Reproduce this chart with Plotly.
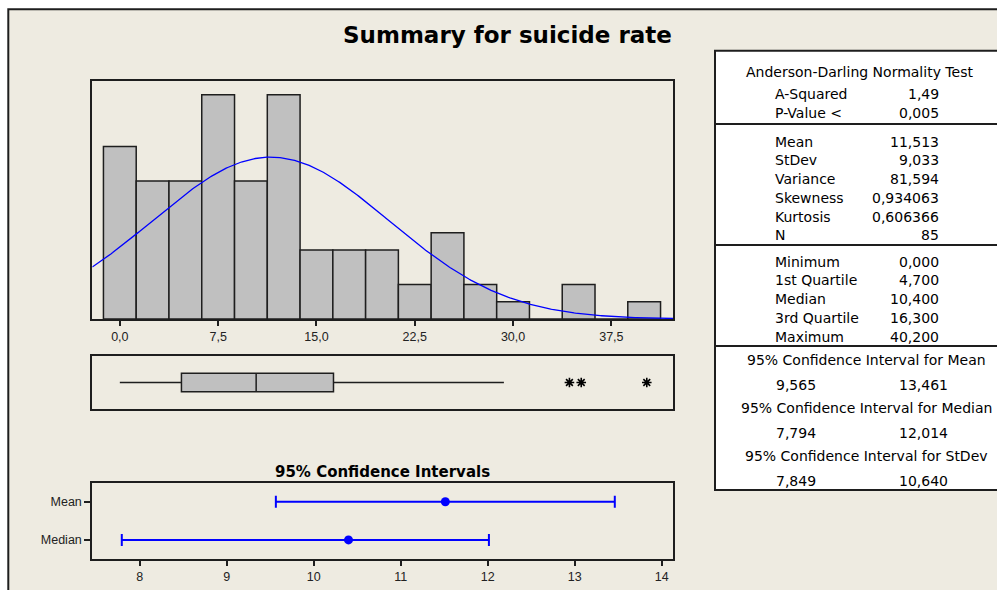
import numpy as np
import plotly.graph_objects as go

# ---------------- data ----------------
bin_centers = [0.0, 2.5, 5.0, 7.5, 10.0, 12.5, 15.0, 17.5, 20.0, 22.5, 25.0, 27.5, 30.0, 32.5, 35.0, 37.5, 40.0]
bin_counts = [10, 8, 8, 13, 8, 13, 4, 4, 4, 2, 5, 2, 1, 0, 2, 0, 1]
bin_width = 2.5
hist_ticks = [0.0, 7.5, 15.0, 22.5, 30.0, 37.5]
hist_ticklabels = ["0,0", "7,5", "15,0", "22,5", "30,0", "37,5"]

mean_val = 11.513
stdev_val = 9.033
n_val = 85

box_q1 = 4.7
box_median = 10.4
box_q3 = 16.3
box_low = 0.0
box_high = 29.3
outliers = [34.3, 35.2, 40.2]

ci_names = ["Mean", "Median"]
ci_center = [11.513, 10.4]
ci_low = [9.565, 7.794]
ci_high = [13.461, 12.014]
ci_ticks = [8, 9, 10, 11, 12, 13, 14]

ad_labels = ["A-Squared", "P-Value <"]
ad_values = ["1,49", "0,005"]
mom_labels = ["Mean", "StDev", "Variance", "Skewness", "Kurtosis", "N"]
mom_values = ["11,513", "9,033", "81,594", "0,934063", "0,606366", "85"]
q_labels = ["Minimum", "1st Quartile", "Median", "3rd Quartile", "Maximum"]
q_values = ["0,000", "4,700", "10,400", "16,300", "40,200"]
ci_table_titles = ["95% Confidence Interval for Mean",
                   "95% Confidence Interval for Median",
                   "95% Confidence Interval for StDev"]
ci_table_low = ["9,565", "7,794", "7,849"]
ci_table_high = ["13,461", "12,014", "10,640"]

# ---------------- layout helpers ----------------
W, H = 997, 590
def px(x):
    return x / W
def py(y):
    return 1 - y / H

BLUE = "#0000FF"
GRAY = "#C0C0C0"
DARK = "#1e1e1e"
BEIGE = "#EEEBE1"

fig = go.Figure()

# histogram
fig.add_trace(go.Bar(x=bin_centers, y=bin_counts, width=bin_width,
                     marker=dict(color=GRAY, line=dict(color=DARK, width=1.5)),
                     xaxis="x", yaxis="y", hoverinfo="x+y"))

# fitted normal curve
xr = (-2.1, 42.2)
xs = np.linspace(xr[0], xr[1], 400)
pdf = n_val * bin_width / (stdev_val * np.sqrt(2 * np.pi)) * np.exp(-0.5 * ((xs - mean_val) / stdev_val) ** 2)
fig.add_trace(go.Scatter(x=xs, y=pdf, mode="lines", line=dict(color=BLUE, width=1.3),
                         xaxis="x", yaxis="y", hoverinfo="skip"))

# boxplot
fig.add_trace(go.Box(q1=[box_q1], median=[box_median], q3=[box_q3],
                     lowerfence=[box_low], upperfence=[box_high], y=[0],
                     orientation="h", width=0.687, whiskerwidth=0,
                     fillcolor=GRAY, line=dict(color=DARK, width=1.5),
                     boxpoints=False, xaxis="x2", yaxis="y2", hoverinfo="skip"))
fig.add_trace(go.Scatter(x=outliers, y=[0] * len(outliers), mode="markers",
                         marker=dict(symbol="asterisk-open", size=8, color="black",
                                     line=dict(color="black", width=1.6)),
                         xaxis="x2", yaxis="y2", hoverinfo="x"))

# confidence intervals
fig.add_trace(go.Scatter(
    x=ci_center, y=ci_names, mode="markers",
    marker=dict(color=BLUE, size=9),
    error_x=dict(type="data", symmetric=False,
                 array=[h - c for h, c in zip(ci_high, ci_center)],
                 arrayminus=[c - l for c, l in zip(ci_center, ci_low)],
                 color=BLUE, thickness=2, width=6),
    xaxis="x3", yaxis="y3"))

dom_x = [px(92.3), px(673)]
axis_common = dict(showline=True, mirror=True, linecolor=DARK, linewidth=2,
                   showgrid=False, zeroline=False)
tickfont = dict(family="Liberation Sans, Arial, sans-serif", size=12.5, color="#222")

fig.update_layout(
    width=W, height=H, autosize=False,
    margin=dict(l=0, r=0, t=0, b=0),
    paper_bgcolor="white", plot_bgcolor="white",
    showlegend=False,
    xaxis=dict(domain=dom_x, range=list(xr), tickvals=hist_ticks, ticktext=hist_ticklabels,
               ticks="outside", ticklen=5, tickwidth=1.5, tickcolor=DARK, tickfont=tickfont,
               anchor="y", **axis_common),
    yaxis=dict(domain=[py(319), py(81)], range=[0, 13.8], showticklabels=False, ticks="",
               anchor="x", **axis_common),
    xaxis2=dict(domain=dom_x, range=list(xr), showticklabels=False, ticks="",
                anchor="y2", **axis_common),
    yaxis2=dict(domain=[py(409.3), py(355.7)], range=[-1, 1], showticklabels=False, ticks="",
                anchor="x2", **axis_common),
    xaxis3=dict(domain=dom_x, range=[7.455, 14.13], tickvals=ci_ticks,
                ticks="outside", ticklen=5, tickwidth=1.5, tickcolor=DARK, tickfont=tickfont,
                anchor="y3", **axis_common),
    yaxis3=dict(domain=[py(559), py(482.7)], type="category",
                categoryorder="array", categoryarray=["Median", "Mean"],
                range=[-0.5, 1.5], ticks="outside", ticklen=6, tickwidth=1.5, tickcolor=DARK,
                tickfont=dict(family="Liberation Sans, Arial, sans-serif", size=12.5, color="#222"),
                anchor="x3", **axis_common),
)

shapes = [
    dict(type="rect", xref="paper", yref="paper", x0=px(8.3), y0=py(9.3), x1=1.05, y1=-0.05,
         fillcolor=BEIGE, line=dict(color=DARK, width=2), layer="below"),
    dict(type="rect", xref="paper", yref="paper", x0=px(715), y0=py(50.7), x1=1.05, y1=py(490),
         fillcolor="white", line=dict(color=DARK, width=2), layer="below"),
]
for yline in [124, 245, 346]:
    shapes.append(dict(type="line", xref="paper", yref="paper", x0=px(715), x1=1.05,
                       y0=py(yline), y1=py(yline), line=dict(color=DARK, width=2), layer="below"))
fig.update_layout(shapes=shapes)

ann = []
tfont = dict(family="DejaVu Sans, Liberation Sans, sans-serif", size=14, color="black")
def add_text(text, x, y, anchor):
    ann.append(dict(text=text, x=px(x), y=py(y), xref="paper", yref="paper",
                    xanchor=anchor, yanchor="middle", showarrow=False, font=tfont))

ann.append(dict(text="Summary for suicide rate", x=px(508), y=py(35), xref="paper", yref="paper",
                xanchor="center", yanchor="middle", showarrow=False,
                font=dict(family="DejaVu Sans, Liberation Sans, sans-serif", size=23,
                          color="black", weight="bold")))
ann.append(dict(text="95% Confidence Intervals", x=(dom_x[0] + dom_x[1]) / 2, y=py(471.7),
                xref="paper", yref="paper", xanchor="center", yanchor="middle", showarrow=False,
                font=dict(family="DejaVu Sans, Liberation Sans, sans-serif", size=15,
                          color="black", weight="bold")))

add_text("Anderson-Darling Normality Test", 859, 71.7, "center")
for i, (l, v) in enumerate(zip(ad_labels, ad_values)):
    y = 94 + i * 19.3
    add_text(l, 772.7, y, "left")
    add_text(v, 940.7, y, "right")
for i, (l, v) in enumerate(zip(mom_labels, mom_values)):
    y = 141.7 + i * 18.7
    add_text(l, 772.7, y, "left")
    add_text(v, 940.7, y, "right")
for i, (l, v) in enumerate(zip(q_labels, q_values)):
    y = 261.7 + i * 18.75
    add_text(l, 772.7, y, "left")
    add_text(v, 940.7, y, "right")
for i, (t, lo, hi) in enumerate(zip(ci_table_titles, ci_table_low, ci_table_high)):
    y0 = 360 + i * 48
    add_text(t, 866, y0, "center")
    add_text(lo, 774, y0 + 25, "left")
    add_text(hi, 897, y0 + 25, "left")

fig.update_layout(annotations=ann)
fig.write_html("out.html", config={"displayModeBar": False},
               post_script="document.body.style.margin='0px';document.body.style.overflow='hidden';")
